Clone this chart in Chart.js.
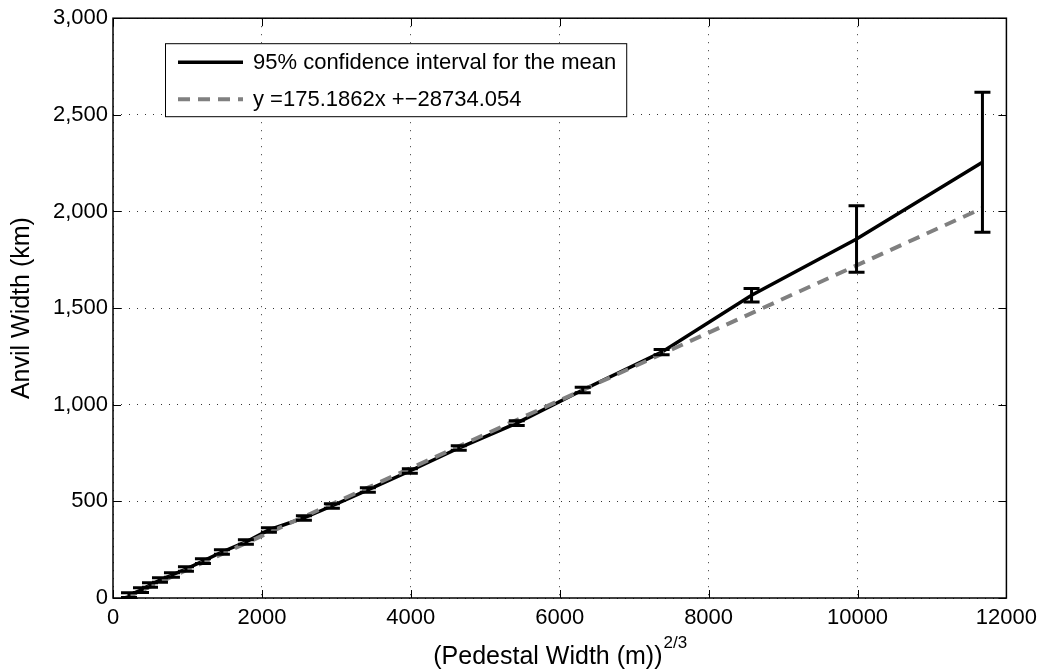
<!DOCTYPE html>
<html lang="en">
<head>
    <meta charset="UTF-8">
    <title>Anvil Width vs Pedestal Width</title>
    <script src="https://cdn.jsdelivr.net/npm/chart.js"></script>
    <style>
        html, body {
            margin: 0;
            padding: 0;
            background-color: #ffffff;
        }
        #chart-container {
            width: 1044px;
            height: 672px;
        }
    </style>
</head>
<body>
    <div id="chart-container">
        <canvas id="myChart" width="1044" height="672"></canvas>
    </div>

    <script>
        // Pedestal width^(2/3) for each bin, mean anvil width (km), half width of the 95% CI (km)
        const pedestalX = [215, 376, 497, 631, 792, 980, 1208, 1463, 1785, 2094, 2564, 2940, 3423, 3987, 4644, 5423, 6309, 7369, 8577, 9987, 11678];
        const anvilMean = [15, 41, 67, 93, 119, 150, 191, 238, 290, 352, 414, 476, 559, 657, 776, 905, 1076, 1272, 1567, 1857, 2255];
        const ciHalf = [12, 12, 12, 12, 12, 12, 12, 12, 12, 12, 12, 12, 12, 12, 12, 12, 14, 14, 35, 172, 362];

        // Regression line end points as drawn
        const fitX = [170, 11678];
        const fitY = [1, 2017];

        const xTicks = [0, 2000, 4000, 6000, 8000, 10000, 12000];
        const yTicks = [0, 500, 1000, 1500, 2000, 2500, 3000];

        const seriesLabels = ['95% confidence interval for the mean', 'y =175.1862x +\u221228734.054'];
        const xTitle = '(Pedestal Width (m))';
        const xTitleSup = '2/3';
        const yTitle = 'Anvil Width (km)';

        const FONT = '"Liberation Sans", Arial, Helvetica, sans-serif';

        const extras = {
            id: 'extras',
            beforeDatasetsDraw(chart) {
                // small inward tick marks on all four sides
                const ctx = chart.ctx;
                const a = chart.chartArea;
                const xs = chart.scales.x, ys = chart.scales.y;
                ctx.save();
                ctx.strokeStyle = '#000';
                ctx.lineWidth = 1;
                ctx.beginPath();
                xTicks.forEach(v => {
                    const px = Math.round(xs.getPixelForValue(v)) + 0.5;
                    ctx.moveTo(px, a.bottom); ctx.lineTo(px, a.bottom - 8);
                    ctx.moveTo(px, a.top); ctx.lineTo(px, a.top + 8);
                });
                yTicks.forEach(v => {
                    const py = Math.round(ys.getPixelForValue(v)) + 0.5;
                    ctx.moveTo(a.left, py); ctx.lineTo(a.left + 8, py);
                    ctx.moveTo(a.right, py); ctx.lineTo(a.right - 8, py);
                });
                ctx.stroke();
                ctx.restore();
            },
            afterDatasetsDraw(chart) {
                // error bars for the mean
                const ctx = chart.ctx;
                const xs = chart.scales.x, ys = chart.scales.y;
                ctx.save();
                ctx.strokeStyle = '#000';
                ctx.lineWidth = 3;
                ctx.lineCap = 'butt';
                for (let i = 0; i < pedestalX.length; i++) {
                    const px = xs.getPixelForValue(pedestalX[i]);
                    const top = ys.getPixelForValue(anvilMean[i] + ciHalf[i]);
                    const bot = ys.getPixelForValue(anvilMean[i] - ciHalf[i]);
                    ctx.beginPath();
                    ctx.moveTo(px, top); ctx.lineTo(px, bot);
                    ctx.moveTo(px - 8, top); ctx.lineTo(px + 8, top);
                    ctx.moveTo(px - 8, bot); ctx.lineTo(px + 8, bot);
                    ctx.stroke();
                }
                ctx.restore();
            },
            afterDraw(chart) {
                const ctx = chart.ctx;
                const a = chart.chartArea;
                ctx.save();

                // axes box
                ctx.strokeStyle = '#000';
                ctx.lineWidth = 1.5;
                ctx.strokeRect(a.left, a.top, a.right - a.left, a.bottom - a.top);

                // legend
                ctx.font = '22px ' + FONT;
                const textW = Math.max(...seriesLabels.map(s => ctx.measureText(s).width));
                const bx = a.left + 52, by = a.top + 25;
                const bw = 88 + textW + 10, bh = 73;
                ctx.fillStyle = '#fff';
                ctx.fillRect(bx, by, bw, bh);
                ctx.lineWidth = 1;
                ctx.strokeStyle = '#000';
                ctx.strokeRect(bx + 0.5, by + 0.5, bw, bh);
                const rows = [by + 19, by + 56];
                chart.data.datasets.forEach((ds, i) => {
                    ctx.beginPath();
                    ctx.strokeStyle = ds.borderColor;
                    ctx.lineWidth = ds.borderWidth;
                    ctx.setLineDash(ds.borderDash || []);
                    ctx.moveTo(bx + 13, rows[i]);
                    ctx.lineTo(bx + 78, rows[i]);
                    ctx.stroke();
                    ctx.setLineDash([]);
                    ctx.fillStyle = '#000';
                    ctx.textBaseline = 'middle';
                    ctx.textAlign = 'left';
                    ctx.fillText(seriesLabels[i], bx + 88, rows[i] + 1);
                });

                // x axis title with superscript
                ctx.fillStyle = '#000';
                ctx.font = '25px ' + FONT;
                ctx.textBaseline = 'alphabetic';
                const mainW = ctx.measureText(xTitle).width;
                ctx.font = '17px ' + FONT;
                const supW = ctx.measureText(xTitleSup).width;
                const cx = (a.left + a.right) / 2;
                const startX = cx - (mainW + supW) / 2;
                ctx.font = '25px ' + FONT;
                ctx.fillText(xTitle, startX, 664);
                ctx.font = '17px ' + FONT;
                ctx.fillText(xTitleSup, startX + mainW + 1, 648);
                ctx.restore();
            }
        };

        const ctx = document.getElementById('myChart').getContext('2d');
        new Chart(ctx, {
            type: 'line',
            data: {
                datasets: [
                    {
                        label: seriesLabels[0],
                        data: pedestalX.map((x, i) => ({x: x, y: anvilMean[i]})),
                        borderColor: '#000000',
                        borderWidth: 3.5,
                        pointRadius: 0,
                        fill: false,
                        tension: 0,
                        order: 2
                    },
                    {
                        label: seriesLabels[1],
                        data: fitX.map((x, i) => ({x: x, y: fitY[i]})),
                        borderColor: '#808080',
                        borderWidth: 4,
                        borderDash: [12, 8],
                        pointRadius: 0,
                        fill: false,
                        tension: 0,
                        order: 1
                    }
                ]
            },
            options: {
                responsive: false,
                animation: false,
                devicePixelRatio: 1,
                layout: {
                    padding: {top: 18, right: 37, left: 0, bottom: 0}
                },
                plugins: {
                    legend: {display: false},
                    tooltip: {enabled: false}
                },
                scales: {
                    x: {
                        type: 'linear',
                        min: 0,
                        max: 12000,
                        afterBuildTicks: (scale) => { scale.ticks = xTicks.map(v => ({value: v})); },
                        afterFit: (scale) => { scale.height = 74; },
                        ticks: {
                            color: '#000',
                            font: {family: FONT, size: 22},
                            padding: 7,
                            maxRotation: 0,
                            callback: (v) => String(v)
                        },
                        grid: {
                            color: '#333',
                            lineWidth: 1,
                            drawTicks: false
                        },
                        border: {display: false, dash: [1, 7]},
                        title: {display: false}
                    },
                    y: {
                        type: 'linear',
                        min: 0,
                        max: 3000,
                        afterBuildTicks: (scale) => { scale.ticks = yTicks.map(v => ({value: v})); },
                        afterFit: (scale) => { scale.width = 113; },
                        ticks: {
                            color: '#000',
                            font: {family: FONT, size: 22},
                            padding: 5,
                            callback: (v) => v.toLocaleString('en-US')
                        },
                        grid: {
                            color: '#333',
                            lineWidth: 1,
                            drawTicks: false
                        },
                        border: {display: false, dash: [1, 7]},
                        title: {
                            display: true,
                            text: yTitle,
                            color: '#000',
                            font: {family: FONT, size: 25, weight: 'normal'},
                            padding: {top: 7, bottom: 0}
                        }
                    }
                }
            },
            plugins: [extras]
        });
    </script>
</body>
</html>
